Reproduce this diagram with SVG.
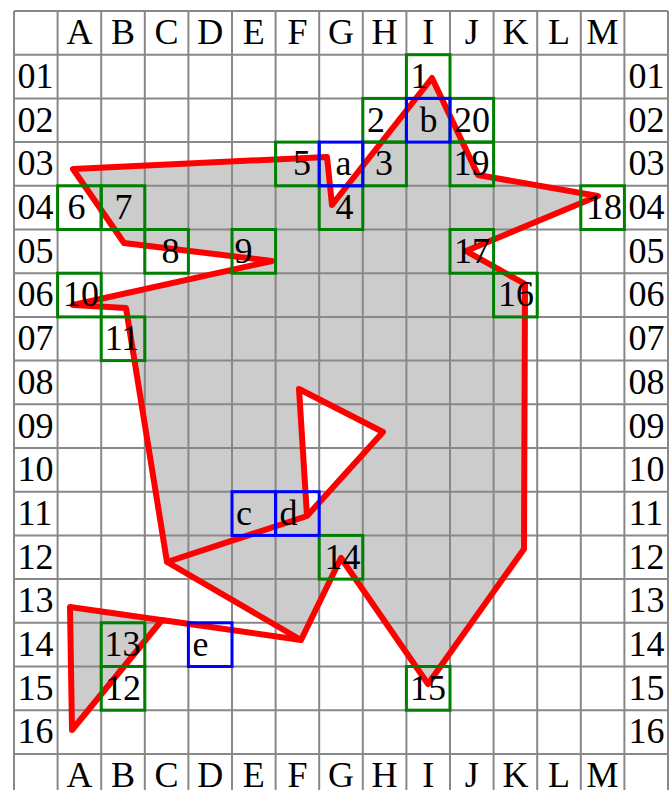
<svg xmlns="http://www.w3.org/2000/svg" width="669" height="790" viewBox="0 0 669 790">
<style>
.gl{stroke:#888;stroke-width:2;fill:none}
.t{font-family:"Liberation Serif","Times New Roman",serif;font-size:36px;fill:#000}
.m{text-anchor:middle}
.gb{fill:none;stroke:#008000;stroke-width:3}
.bb{fill:none;stroke:#0000ff;stroke-width:3}
.poly{fill:#cccccc;fill-rule:evenodd;stroke:none}
.edge{fill:none;stroke:#ff0000;stroke-width:6;stroke-linejoin:round;stroke-linecap:round}
</style>
<rect x="0" y="0" width="669" height="790" fill="#fff"/>
<path class="poly" d="M73,169 L327,157 L332,205 L432,78 L478,175 L598,196 L466,251 L525,284 L524,549 L428,684 L341,558 L301,640 L70,607 L72,730 L162,620 L301,640 L167,562 L307,516 L299,389 L383,432 L307,516 L167,562 L126,308 L73,305 L272,261 L124,243 Z"/>
<g id="grid" class="gl">
<path d="M14,11V790M57.6,11V790M101.2,11V790M144.8,11V790M188.4,11V790M232,11V790M275.6,11V790M319.2,11V790M362.8,11V790M406.4,11V790M450,11V790M493.6,11V790M537.2,11V790M580.8,11V790M624.4,11V790M668,11V790"/>
<path d="M14,11H668M14,54.7H668M14,98.4H668M14,142.1H668M14,185.8H668M14,229.5H668M14,273.2H668M14,316.9H668M14,360.6H668M14,404.3H668M14,448H668M14,491.7H668M14,535.4H668M14,579.1H668M14,622.8H668M14,666.5H668M14,710.2H668M14,753.9H668"/>
</g>
<g id="connectors">
<path class="edge" d="M73,169 L327,157 L332,205 L432,78 L478,175 L598,196 L466,251 L525,284 L524,549 L428,684 L341,558 L301,640 L70,607 L72,730 L162,620 L301,640 L167,562 L307,516 L299,389 L383,432 L307,516 L167,562 L126,308 L73,305 L272,261 L124,243 Z"/>
</g>
<g id="headers" class="t m">
<text x="79.4" y="44.2">A</text><text x="123" y="44.2">B</text><text x="166.6" y="44.2">C</text><text x="210.2" y="44.2">D</text><text x="253.8" y="44.2">E</text><text x="297.4" y="44.2">F</text><text x="341" y="44.2">G</text><text x="384.6" y="44.2">H</text><text x="428.2" y="44.2">I</text><text x="471.8" y="44.2">J</text><text x="515.4" y="44.2">K</text><text x="559" y="44.2">L</text><text x="602.6" y="44.2">M</text>
<text x="79.4" y="787.1">A</text><text x="123" y="787.1">B</text><text x="166.6" y="787.1">C</text><text x="210.2" y="787.1">D</text><text x="253.8" y="787.1">E</text><text x="297.4" y="787.1">F</text><text x="341" y="787.1">G</text><text x="384.6" y="787.1">H</text><text x="428.2" y="787.1">I</text><text x="471.8" y="787.1">J</text><text x="515.4" y="787.1">K</text><text x="559" y="787.1">L</text><text x="602.6" y="787.1">M</text>
</g>
<g id="rowlabels" class="t">
<text x="17.5" y="87.9">01</text><text x="17.5" y="131.6">02</text><text x="17.5" y="175.3">03</text><text x="17.5" y="219">04</text><text x="17.5" y="262.7">05</text><text x="17.5" y="306.4">06</text><text x="17.5" y="350.1">07</text><text x="17.5" y="393.8">08</text><text x="17.5" y="437.5">09</text><text x="17.5" y="481.2">10</text><text x="17.5" y="524.9">11</text><text x="17.5" y="568.6">12</text><text x="17.5" y="612.3">13</text><text x="17.5" y="656">14</text><text x="17.5" y="699.7">15</text><text x="17.5" y="743.4">16</text>
<text x="628.5" y="87.9">01</text><text x="628.5" y="131.6">02</text><text x="628.5" y="175.3">03</text><text x="628.5" y="219">04</text><text x="628.5" y="262.7">05</text><text x="628.5" y="306.4">06</text><text x="628.5" y="350.1">07</text><text x="628.5" y="393.8">08</text><text x="628.5" y="437.5">09</text><text x="628.5" y="481.2">10</text><text x="628.5" y="524.9">11</text><text x="628.5" y="568.6">12</text><text x="628.5" y="612.3">13</text><text x="628.5" y="656">14</text><text x="628.5" y="699.7">15</text><text x="628.5" y="743.4">16</text>
</g>
<g id="n1"><rect class="gb" x="406.4" y="54.7" width="43.6" height="43.7"/><text class="t m" x="419.5" y="87.9">1</text></g>
<g id="n2"><rect class="gb" x="362.8" y="98.4" width="43.6" height="43.7"/><text class="t m" x="376" y="131.6">2</text></g>
<g id="n3"><rect class="gb" x="362.8" y="142.1" width="43.6" height="43.7"/><text class="t m" x="384" y="175.3">3</text></g>
<g id="n4"><rect class="gb" x="319.2" y="185.8" width="43.6" height="43.7"/><text class="t m" x="344.5" y="219">4</text></g>
<g id="n5"><rect class="gb" x="275.6" y="142.1" width="43.6" height="43.7"/><text class="t m" x="302" y="175.3">5</text></g>
<g id="n6"><rect class="gb" x="57.6" y="185.8" width="43.6" height="43.7"/><text class="t m" x="76.5" y="219">6</text></g>
<g id="n7"><rect class="gb" x="101.2" y="185.8" width="43.6" height="43.7"/><text class="t m" x="123.5" y="219">7</text></g>
<g id="n8"><rect class="gb" x="144.8" y="229.5" width="43.6" height="43.7"/><text class="t m" x="170.5" y="262.7">8</text></g>
<g id="n9"><rect class="gb" x="232" y="229.5" width="43.6" height="43.7"/><text class="t m" x="243.5" y="262.7">9</text></g>
<g id="n10"><rect class="gb" x="57.6" y="273.2" width="43.6" height="43.7"/><text class="t m" x="81" y="306.4">10</text></g>
<g id="n11"><rect class="gb" x="101.2" y="316.9" width="43.6" height="43.7"/><text class="t m" x="122" y="350.1">11</text></g>
<g id="n12"><rect class="gb" x="101.2" y="666.5" width="43.6" height="43.7"/><text class="t m" x="123" y="699.7">12</text></g>
<g id="n13"><rect class="gb" x="101.2" y="622.8" width="43.6" height="43.7"/><text class="t m" x="122.5" y="656">13</text></g>
<g id="n14"><rect class="gb" x="319.2" y="535.4" width="43.6" height="43.7"/><text class="t m" x="342.5" y="568.6">14</text></g>
<g id="n15"><rect class="gb" x="406.4" y="666.5" width="43.6" height="43.7"/><text class="t m" x="428" y="699.7">15</text></g>
<g id="n16"><rect class="gb" x="493.6" y="273.2" width="43.6" height="43.7"/><text class="t m" x="516" y="306.4">16</text></g>
<g id="n17"><rect class="gb" x="450" y="229.5" width="43.6" height="43.7"/><text class="t m" x="472" y="262.7">17</text></g>
<g id="n18"><rect class="gb" x="580.8" y="185.8" width="43.6" height="43.7"/><text class="t m" x="604" y="219">18</text></g>
<g id="n19"><rect class="gb" x="450" y="142.1" width="43.6" height="43.7"/><text class="t m" x="471.5" y="175.3">19</text></g>
<g id="n20"><rect class="gb" x="450" y="98.4" width="43.6" height="43.7"/><text class="t m" x="472" y="131.6">20</text></g>
<g id="na"><rect class="bb" x="319.2" y="142.1" width="43.6" height="43.7"/><text class="t m" x="343.5" y="175.3">a</text></g>
<g id="nb"><rect class="bb" x="406.4" y="98.4" width="43.6" height="43.7"/><text class="t m" x="428.5" y="131.6">b</text></g>
<g id="nc"><rect class="bb" x="232" y="491.7" width="43.6" height="43.7"/><text class="t m" x="244" y="524.9">c</text></g>
<g id="nd"><rect class="bb" x="275.6" y="491.7" width="43.6" height="43.7"/><text class="t m" x="288.5" y="524.9">d</text></g>
<g id="ne"><rect class="bb" x="188.4" y="622.8" width="43.6" height="43.7"/><text class="t m" x="200.5" y="656">e</text></g>
</svg>
